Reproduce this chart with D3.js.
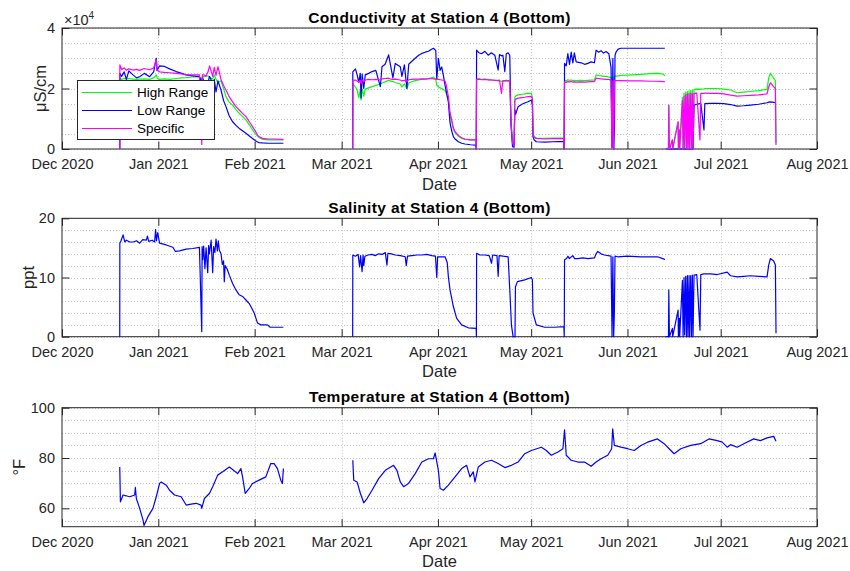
<!DOCTYPE html>
<html>
<head>
<meta charset="utf-8">
<script src="https://cdn.jsdelivr.net/npm/d3@7"></script>
<style>
  body { margin: 0; background: #fff; }
  text { font-family: "Liberation Sans", Arial, sans-serif; }
</style>
</head>
<body>
<svg id="chart" width="850" height="571"></svg>
<script>
// days since 2020-12-01 (UTC)
const condDays = [
  18.59, 18.62, 19.2, 20.0, 20.73, 21.5, 22.86, 24.0, 25.0, 26.5,
  28.21, 29.5, 30.34, 30.6, 31.41, 33.0, 34.62, 36.75, 38.5, 39.96,
  42.0, 44.23, 44.98, 45.2, 46.37, 47.0, 47.5, 48.5, 49.0, 49.57,
  50.2, 51.18, 52.0, 52.78, 53.8, 54.91, 56.0, 57.05, 58.1, 59.19,
  60.3, 61.32, 62.3, 62.93, 63.46, 64.53, 66.5, 68.5, 71.26, 80,
  93.55, 93.6, 94.44, 95.0, 95.51, 96.0, 96.26, 96.6, 97.12, 97.6,
  98.7, 99.79, 101.0, 102.46, 102.99, 104.0, 105.13, 105.6, 106.5, 107.26,
  108.87, 109.4, 110.2, 111.0, 111.6, 112.6, 113.68, 114.8, 115.81, 116.9,
  117.95, 118.8, 119.55, 120.3, 120.62, 121.15, 121.7, 122.22, 122.8, 123.29,
  123.8, 124.36, 124.89, 125.43, 125.96, 126.5, 127.56, 128.63, 129.7, 131.5,
  133.2, 133.32, 133.44, 134.2, 135.04, 136.1, 137.18, 138.2, 139.3, 140.38,
  140.8, 141.45, 141.9, 142.52, 143.0, 143.59, 144.12, 144.5, 145.0, 145.5,
  145.75, 146.0, 146.8, 148.0, 148.93, 150.0, 151.07, 151.4, 151.6, 152.0,
  152.67, 155.34, 158.0, 161.5, 161.6, 161.75, 162.29, 162.8, 163.35, 163.9,
  164.42, 164.9, 165.49, 167.09, 168.2, 169.23, 170.3, 171.37, 171.9, 172.7,
  173.5, 174.3, 175.11, 176.0, 176.71, 177.03, 177.3, 177.56, 177.8, 177.99,
  178.31, 179.0, 179.91, 183.12, 186.32, 189.53, 191.67, 193.5, 194.02, 194.2,
  194.34, 195.19, 195.3, 195.5, 196.47, 196.55, 198.29, 198.4, 198.72, 198.8,
  199.68, 199.9, 200.21, 200.4, 200.75, 201.0, 201.28, 201.5, 201.82, 202.0,
  202.35, 202.6, 202.88, 203.1, 203.42, 204.3, 205.34, 205.6, 206.62, 206.9,
  208.8, 210.9, 213.0, 215.17, 217.31, 219.4, 221.58, 224.2, 226.92, 227.46,
  227.99, 229.06, 229.6, 229.81
];

// conductivity, uS/cm
const condHigh = [
  0, 23400, 23000, 23400, 23100, 23300, 23100, 23000, 23100, 23200,
  23000, 23500, 24500, 23500, 23000, 23200, 23000, 23300, 23500, 23600,
  23800, 23900, 23000, 23900, 24000, 24200, 23500, 23200, 24500, 23000,
  22000, 22500, 20000, 17300, 15500, 14500, 13000, 11800, 10800, 9600,
  8000, 6300, 5000, 4300, 3800, 3200, 3000, 3000, 3000, null,
  0, 21700, 20500, 19500, 17000, 19500, 16200, 19800, 17500, 19800,
  20200, 20600, 21000, 21500, 21800, 22200, 22800, 22500, 22300, 22000,
  21500, 20500, 21500, 20000, 21800, 22300, 22600, 22800, 23000, 23200,
  23300, 23500, 23700, 23000, 21000, 20600, 20200, 20000, 19500, 19500,
  18000, 16000, 11000, 9000, 6500, 5500, 4200, 3500, 3200, 3000,
  3000, 0, 23000, 23200, 23000, 23100, 23000, 22800, 22700, 22500,
  22600, 22300, 22500, 22400, 22500, 22400, 22300, 10000, 2500, 1500,
  17000, 17500, 17900, 18100, 18200, 18400, 18400, 17000, 5000, 4200,
  3600, 3500, 3600, 3700, 0, 22800, 22500, 22900, 22700, 22800,
  22600, 22700, 22600, 22700, 22600, 22700, 22800, 22800, 24500, 24300,
  24200, 24000, 24000, 23800, 23600, 500, 23500, 0, 24000, 24100,
  24100, 24200, 24300, 24500, 24700, 24900, 25000, 24800, 24200, null,
  0, 0, 14500, 0, 3000, 0, 9000, 0, 6300, 0,
  17000, 0, 18500, 500, 18800, 0, 19000, 0, 19200, 0,
  19300, 0, 19500, 0, 19700, 19800, 19700, 19800, 19900, 20000,
  20000, 20000, 19800, 19500, 18600, 18800, 19000, 19300, 19700, 23500,
  25000, 23400, 22500, 2000
];

const condLow = [
  0, 25000, 24000, 25500, 23000, 25800, 24500, 23500, 23900, 25000,
  23900, 25500, 30000, 26000, 27500, 27300, 26500, 25600, 25000, 24500,
  24200, 23900, 22000, 23900, 19500, 22000, 24000, 21700, 23000, 18900,
  22500, 19500, 16000, 14000, 11000, 9000, 7800, 6800, 6000, 5200,
  4300, 3500, 2700, 2300, 2100, 2000, 1900, 1900, 1900, null,
  0, 25500, 26500, 24500, 22000, 25000, 16900, 24800, 20000, 24500,
  25000, 25600, 26000, 20600, 27200, 28000, 31100, 28500, 23500, 28300,
  27200, 24000, 27800, 20000, 28000, 29000, 30000, 31000, 31600, 32000,
  32300, 32900, 33300, 32500, 23000, 30000, 26000, 27100, 24000, 21000,
  18500, 15600, 8600, 6000, 4100, 3300, 2400, 1900, 1650, 1400,
  1300, 0, 32700, 31800, 31500, 32300, 31000, 31800, 31000, 26100,
  31200, 30800, 31000, 25600, 31500, 31800, 31000, 8000, 800, 600,
  13000, 11500, 14000, 14800, 15200, 15600, 16200, 14500, 4000, 3000,
  2400, 2300, 2400, 2500, 0, 28300, 27500, 31500, 28000, 32000,
  28500, 31800, 28800, 28500, 28000, 28300, 28800, 28500, 32700, 32000,
  32500, 31700, 32200, 31500, 27000, 500, 30000, 0, 6300, 31000,
  32000, 33000, 33300, 33300, 33300, 33300, 33300, 33300, 33300, null,
  0, 0, 0, 0, 0, 0, 0, 0, 0, 0,
  0, 0, 0, 0, 0, 0, 0, 0, 0, 0,
  0, 0, 0, 0, 14500, 14800, 15000, 15000, 6300, 15000,
  15100, 15100, 15000, 14700, 14200, 14300, 14500, 14800, 15300, 15500,
  15600, 15400, 15300, 15300
];

const condSpecific = [
  0, 27800, 26300, 26800, 26000, 26500, 26100, 26300, 26000, 26600,
  26200, 26800, 29500, 26000, 25500, 25300, 25200, 25000, 24800, 24500,
  24500, 24500, 1500, 24600, 24200, 25500, 27500, 24000, 27000, 24300,
  27200, 23000, 21000, 19500, 17300, 15600, 14000, 12900, 11800, 10700,
  9000, 7400, 5800, 4600, 4000, 3500, 3300, 3300, 3200, null,
  0, 22600, 22800, 22500, 22000, 22700, 21500, 22800, 22300, 22800,
  23000, 22900, 23000, 22800, 23200, 23300, 23400, 23200, 23000, 23100,
  22800, 22500, 22700, 22300, 22900, 23000, 23100, 23100, 23200, 23100,
  23200, 23300, 23200, 23100, 23000, 23000, 22900, 22800, 22700, 22500,
  20500, 17300, 12000, 9600, 7000, 5700, 4500, 3700, 3300, 3000,
  3000, 0, 23000, 23100, 22900, 23000, 22800, 22900, 22700, 22700,
  22800, 18400, 22600, 22600, 22700, 22600, 22500, 9000, 2000, 1000,
  16000, 16500, 16800, 17000, 17100, 17300, 17400, 16500, 4500, 3800,
  3500, 3300, 3400, 3500, 0, 22300, 22000, 22300, 22200, 22300,
  22100, 22200, 22100, 22200, 22100, 22200, 22300, 22300, 23400, 23300,
  23200, 23100, 23000, 23000, 22700, 300, 22500, 0, 22700, 22600,
  22600, 22600, 22600, 22500, 22500, 22400, 22400, 22300, 22300, null,
  0, 0, 14500, 0, 3000, 0, 9000, 0, 6300, 0,
  16000, 0, 17500, 500, 18000, 0, 18200, 0, 18300, 0,
  18400, 0, 18400, 0, 18400, 18500, 3000, 18400, 18400, 18500,
  18400, 18400, 18200, 17800, 17500, 17600, 17700, 17900, 18200, 20500,
  21900, 20600, 20000, 1300
];

const salDays = [
  18.59, 18.62, 19.0, 19.66, 20.2, 20.73, 21.8, 22.86, 24.0, 25.0,
  26.0, 27.14, 27.5, 27.9, 29.0, 29.81, 30.13, 30.4, 30.8, 31.41,
  33.55, 35.68, 36.5, 37.82, 39.96, 42.09, 44.23, 44.98, 45.1, 45.3,
  45.6, 46.0, 46.37, 46.9, 47.2, 47.44, 48.0, 48.5, 48.8, 49.2,
  49.57, 50.0, 50.3, 50.64, 51.18, 51.6, 52.0, 52.24, 52.5, 53.2,
  53.85, 54.91, 55.98, 57.0, 58.12, 59.2, 60.26, 61.0, 61.86, 62.93,
  64.0, 65.0, 66.13, 67.0, 67.74, 71.26, 80,
  93.55, 93.6, 94.44, 95.3, 95.8, 96.1, 96.58, 96.9, 97.12, 97.5,
  98.5, 99.79, 100.8, 101.92, 103.0, 104.06, 104.59, 104.9, 106.0, 107.26,
  108.9, 110.47, 110.8, 111.2, 112.61, 114.2, 115.81, 117.4, 119.02, 120.2,
  120.62, 120.9, 122.0, 123.29, 124.0, 124.36, 124.89, 125.96, 127.03, 128.63,
  130.77, 133.3, 133.38, 133.44, 134.5, 136.11, 137.5, 138.25, 138.6, 140.0,
  140.38, 140.7, 142.0, 143.59, 144.12, 144.66, 145.19, 145.8, 145.94, 146.58,
  148.93, 151.07, 151.4, 151.6, 152.67, 155.34, 158.5, 161.54, 161.65, 161.75,
  162.4, 162.82, 163.3, 164.4, 165.0, 166.03, 167.6, 169.23, 171.37, 171.9,
  172.44, 173.5, 174.57, 176.71, 177.03, 177.3, 177.56, 177.78, 177.99, 178.85,
  182.0, 186.32, 189.0, 191.67, 193.8, 194.02, 194.2,
  194.34, 195.19, 195.3, 195.5, 196.47, 196.55, 198.29, 198.4, 198.72, 198.8,
  199.68, 199.9, 200.21, 200.4, 200.75, 201.0, 201.28, 201.5, 201.82, 202.0,
  202.35, 202.6, 202.88, 203.1, 203.42, 204.3, 205.34, 205.6, 206.62, 208.8,
  210.9, 214.1, 215.17, 217.31, 219.4, 221.58, 224.2, 226.92, 227.46, 227.99,
  229.06, 229.6, 229.81
];

// salinity, ppt
const salinity = [
  0, 15.8, 16.2, 17.2, 16.0, 16.3, 16.0, 16.0, 16.2, 15.8,
  16.4, 16.3, 17.0, 16.1, 16.3, 16.0, 18.1, 16.2, 17.6, 15.8,
  15.5, 15.1, 14.4, 14.5, 14.8, 14.9, 15.1, 0.85, 15.2, 13.0,
  15.3, 11.5, 15.0, 10.8, 15.4, 14.0, 16.3, 10.8, 15.2, 14.2,
  16.5, 14.5, 16.2, 14.6, 14.0, 12.2, 12.8, 9.3, 12.0, 11.4,
  10.4, 9.0, 7.9, 7.1, 6.8, 6.2, 5.6, 4.9, 4.0, 2.3,
  2.0, 2.0, 2.0, 1.6, 1.6, 1.6, null,
  0, 13.8, 13.6, 13.9, 11.8, 13.7, 11.0, 13.8, 12.0, 13.6,
  13.8, 13.9, 13.7, 14.0, 13.9, 14.2, 12.1, 14.1, 14.0, 13.8,
  13.7, 13.5, 12.0, 13.6, 13.7, 13.8, 13.8, 13.9, 13.7, 13.6,
  10.0, 13.5, 13.5, 13.5, 12.5, 10.1, 7.9, 5.1, 3.1, 2.0,
  1.5, 1.4, 0, 14.1, 13.8, 13.8, 13.7, 12.4, 13.8, 13.7,
  10.2, 13.7, 13.6, 13.5, 7.9, 1.9, 0, 0, 8.4, 9.3,
  9.6, 10.0, 9.6, 4.0, 2.0, 1.6, 1.6, 1.7, 0, 13.0,
  13.2, 13.6, 13.2, 13.7, 13.2, 13.2, 13.3, 13.2, 13.3, 14.0,
  14.4, 14.0, 13.8, 13.6, 0, 13.5, 0, 4.0, 13.6, 13.5,
  13.6, 13.5, 13.5, 13.5, 13.1, 13.0, null,
  0, 0, 7.9, 0, 1.4, 0, 4.5, 0, 3.1, 0,
  9.5, 0, 10.0, 0.3, 10.2, 0, 10.3, 0, 10.3, 0,
  10.3, 0, 10.4, 0, 10.4, 10.5, 1.1, 10.5, 10.6, 10.6,
  10.5, 10.9, 10.3, 10.1, 10.2, 10.3, 10.2, 10.1, 12.1, 13.2,
  12.8, 12.1, 0.6
];

const tempDays = [
  18.59, 18.8, 19.66, 21.79, 23.4, 23.61, 23.93, 25.0, 26.07, 26.39,
  27.67, 29.27, 30.34, 31.41, 31.94, 33.55, 34.62, 36.22, 38.35, 39.96,
  41.56, 43.16, 44.76, 44.98, 45.83, 47.44, 48.5, 50.11, 51.71, 53.85,
  54.91, 56.52, 57.58, 58.12, 58.97, 60.26, 61.32, 63.46, 65.6, 67.2,
  68.27, 69.34, 70.41, 70.94, 71.26, 80,
  93.59, 93.9, 94.98, 96.05, 97.12, 98.18, 99.79, 101.92, 104.06, 106.73,
  107.8, 108.87, 109.94, 111.54, 113.68, 115.81, 117.95, 119.55, 120.09, 121.15,
  121.69, 122.76, 124.36, 126.5, 128.63, 130.24, 131.3, 132.37, 132.91, 133.97,
  136.11, 138.25, 140.38, 142.52, 144.66, 146.79, 148.93, 151.07, 154.27, 155.88,
  157.48, 159.62, 161.22, 161.75, 162.29, 163.89, 166.03, 168.16, 170.3, 171.9,
  173.5, 175.64, 176.92, 177.24, 177.78, 179.91, 182.05, 184.19, 186.32, 188.46,
  191.67, 193.8, 195.41, 197.01, 199.14, 202.35, 205.55, 208.23, 210.9, 212.5,
  214.1, 215.17, 217.31, 219.44, 222.65, 224.79, 226.92, 229.06, 229.81
];

// temperature, deg F
const temperature = [
  76.4, 62.6, 65.3, 64.6, 65.3, 68.3, 63.9, 60.0, 55.4, 53.2,
  56.7, 60.0, 64.6, 69.9, 70.5, 69.2, 67.2, 65.3, 64.6, 61.3,
  61.7, 62.0, 61.3, 60.0, 63.9, 65.9, 68.6, 73.2, 74.5, 76.4,
  75.4, 73.8, 75.8, 72.5, 65.9, 67.9, 69.9, 71.2, 72.5, 77.8,
  77.8, 75.8, 71.2, 69.9, 75.8, null,
  79.1, 71.2, 70.5, 65.9, 62.2, 63.9, 67.2, 71.8, 75.1, 77.1,
  75.1, 70.5, 68.6, 69.9, 73.8, 78.4, 79.7, 79.7, 82.0, 75.0,
  67.9, 67.2, 69.2, 72.5, 75.8, 77.1, 72.5, 74.5, 70.5, 76.4,
  78.4, 79.1, 77.8, 76.2, 77.1, 78.4, 81.7, 83.0, 84.3, 83.0,
  81.1, 82.4, 83.7, 91.2, 81.1, 79.1, 78.4, 78.4, 76.7, 78.4,
  79.7, 81.1, 83.7, 91.6, 85.0, 84.3, 83.7, 83.0, 85.0, 86.3,
  87.6, 85.7, 83.7, 81.7, 83.7, 85.0, 85.7, 87.6, 86.9, 86.3,
  84.3, 85.3, 84.3, 85.7, 87.6, 86.9, 88.0, 88.6, 86.7
];

const condTicks = [0, 20000, 40000];
const salTicks = [0, 10, 20];
const tempTicks = [60, 80, 100];
const seriesNames = ["High Range", "Low Range", "Specific"];

// ---- drawing ----
const svg = d3.select("#chart");
const plotLeft = 62, plotRight = 817;
const ink = "#262626";
const t0 = Date.UTC(2020, 11, 1);
const toDate = d => new Date(t0 + d * 864e5);

const x = d3.scaleUtc()
  .domain([new Date(Date.UTC(2020, 11, 1)), new Date(Date.UTC(2021, 7, 1))])
  .range([plotLeft, plotRight]);
const months = x.ticks(d3.utcMonth.every(1));

function drawPanel(p) {
  const y = d3.scaleLinear().domain(p.domain).range([p.bottom, p.top]);
  const g = svg.append("g");

  // dotted grid (minor y, major y, month x)
  const grid = g.append("g")
    .attr("stroke", "#c4c4c4")
    .attr("stroke-width", 1)
    .attr("stroke-dasharray", "1,2");
  grid.selectAll(".gy").data(p.minor.concat(p.ticks)).join("line")
    .attr("x1", plotLeft).attr("x2", plotRight)
    .attr("y1", d => Math.round(y(d)) + 0.5).attr("y2", d => Math.round(y(d)) + 0.5);
  grid.selectAll(".gx").data(months.slice(1, -1)).join("line")
    .attr("x1", d => Math.round(x(d)) + 0.5).attr("x2", d => Math.round(x(d)) + 0.5)
    .attr("y1", p.top).attr("y2", p.bottom);

  // axes, ticks pointing inward like MATLAB
  const styleAxis = sel => {
    sel.attr("font-family", null).attr("font-size", 14.5);
    sel.select(".domain").remove();
    sel.selectAll("line").attr("stroke", ink);
    sel.selectAll("text").attr("fill", ink);
  };
  g.append("g").attr("transform", `translate(0,${p.bottom})`)
    .call(d3.axisBottom(x).tickValues(months).tickFormat(d3.utcFormat("%b %Y"))
      .tickSizeInner(-7.5).tickSizeOuter(0).tickPadding(10))
    .call(styleAxis);
  g.append("g").attr("transform", `translate(0,${p.top})`)
    .call(d3.axisTop(x).tickValues(months).tickFormat("").tickSizeInner(-7.5).tickSizeOuter(0))
    .call(styleAxis);
  g.append("g").attr("transform", `translate(${plotLeft},0)`)
    .call(d3.axisLeft(y).tickValues(p.ticks).tickFormat(p.format)
      .tickSizeInner(-7.5).tickSizeOuter(0).tickPadding(7))
    .call(styleAxis);
  g.append("g").attr("transform", `translate(${plotRight},0)`)
    .call(d3.axisRight(y).tickValues(p.ticks).tickFormat("").tickSizeInner(-7.5).tickSizeOuter(0))
    .call(styleAxis);

  g.append("rect")
    .attr("x", plotLeft).attr("y", p.top)
    .attr("width", plotRight - plotLeft).attr("height", p.bottom - p.top)
    .attr("fill", "none").attr("stroke", ink).attr("stroke-width", 1);

  // data
  const line = d3.line()
    .defined(d => d[1] != null)
    .x(d => x(toDate(d[0])))
    .y(d => y(d[1]));
  p.series.forEach(s => {
    g.append("path")
      .datum(d3.zip(p.days, s.values))
      .attr("fill", "none")
      .attr("stroke", s.color)
      .attr("stroke-width", 1.2)
      .attr("stroke-linejoin", "round")
      .attr("d", line);
  });

  // texts
  g.append("text")
    .attr("x", (plotLeft + plotRight) / 2).attr("y", p.top - 5.5)
    .attr("text-anchor", "middle")
    .attr("font-size", 15.5).attr("letter-spacing", 0.35)
    .attr("font-weight", "bold").attr("fill", "#000")
    .text(p.title);
  g.append("text")
    .attr("x", (plotLeft + plotRight) / 2).attr("y", p.bottom + 40.5)
    .attr("text-anchor", "middle")
    .attr("font-size", 16.5).attr("fill", ink)
    .text("Date");
  g.append("text")
    .attr("transform", `translate(${p.labelX},${(p.top + p.bottom) / 2}) rotate(-90)`)
    .attr("text-anchor", "middle")
    .attr("font-size", 16.5).attr("fill", ink)
    .text(p.ylabel);
  return g;
}

const colors = ["#00ff00", "#0000ff", "#ff00ff"];

drawPanel({
  top: 28, bottom: 149,
  domain: [0, 40000], ticks: condTicks, format: d => d / 1e4,
  minor: d3.range(5000, 40000, 5000),
  title: "Conductivity at Station 4 (Bottom)", ylabel: "μS/cm", labelX: 46,
  days: condDays,
  series: [
    { values: condHigh, color: colors[0] },
    { values: condLow, color: colors[1] },
    { values: condSpecific, color: colors[2] }
  ]
});

// x10^4 exponent
const expo = svg.append("text")
  .attr("x", 64).attr("y", 25)
  .attr("font-size", 14.5).attr("fill", ink);
expo.append("tspan").text("×10");
expo.append("tspan").attr("font-size", 10).attr("dy", -6).text("4");

drawPanel({
  top: 218.3, bottom: 336.7,
  domain: [0, 20], ticks: salTicks, format: d3.format("d"),
  minor: d3.range(2, 20, 2),
  title: "Salinity at Station 4 (Bottom)", ylabel: "ppt", labelX: 34,
  days: salDays,
  series: [{ values: salinity, color: colors[1] }]
});

drawPanel({
  top: 407.7, bottom: 526.7,
  domain: [52.7, 100], ticks: tempTicks, format: d3.format("d"),
  minor: d3.range(55, 100, 5),
  title: "Temperature at Station 4 (Bottom)", ylabel: "°F", labelX: 25,
  days: tempDays,
  series: [{ values: temperature, color: colors[1] }]
});

// legend
const leg = svg.append("g");
leg.append("rect")
  .attr("x", 77.5).attr("y", 80.5).attr("width", 137).attr("height", 59)
  .attr("fill", "#fff").attr("stroke", ink).attr("stroke-width", 1);
const rows = leg.selectAll(".row").data(seriesNames).join("g")
  .attr("transform", (d, i) => `translate(0,${92.5 + i * 18})`);
rows.append("line")
  .attr("x1", 82).attr("x2", 132)
  .attr("stroke", (d, i) => colors[i]).attr("stroke-width", 1.2);
rows.append("text")
  .attr("x", 137).attr("dy", "0.35em")
  .attr("font-size", 13.5).attr("fill", "#000")
  .text(d => d);
</script>
</body>
</html>
